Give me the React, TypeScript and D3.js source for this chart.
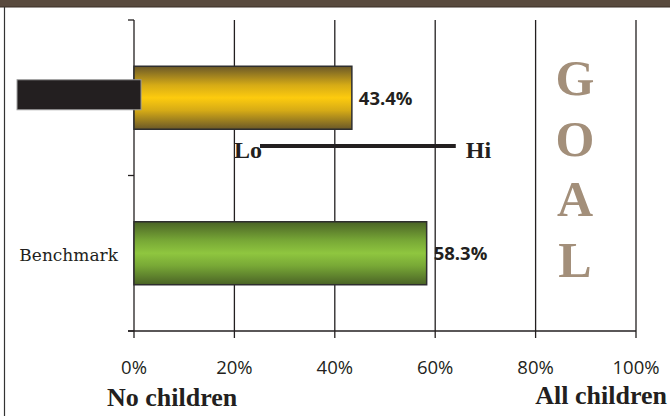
import React from "react";
import * as d3 from "d3";

const categories = ["Program", "Benchmark"];
const categoryLabels = ["", "Benchmark"];
const values = [43.4, 58.3];
const valueLabels = ["43.4%", "58.3%"];
const markerRange = [-23.3, 1.4];
const loHiRange = [25.1, 64.1];
const tickValues = [0, 20, 40, 60, 80, 100];
const tickLabels = ["0%", "20%", "40%", "60%", "80%", "100%"];
const goalLetters = ["G", "O", "A", "L"];

const W = 670;
const H = 416;

export default function App() {
  const x = d3.scaleLinear().domain([0, 100]).range([134, 636]);
  const y = d3.scaleBand<string>().domain(categories).range([20, 331]).padding(0);
  const bw = y.bandwidth();
  const barH = bw * 0.405;
  const dark = "#231f20";
  const serif = "'Liberation Serif', 'Times New Roman', serif";
  const sans = "'Open Sans', sans-serif";

  return (
    <svg width={W} height={H} style={{ position: "absolute", left: 0, top: 0 }}>
      <defs>
        <linearGradient id="gYellow" x1="0" y1="0" x2="0" y2="1">
          <stop offset="0" stopColor="#6a5828" />
          <stop offset="0.3" stopColor="#d6ab16" />
          <stop offset="0.5" stopColor="#fdcb0e" />
          <stop offset="0.7" stopColor="#d6ab16" />
          <stop offset="1" stopColor="#6a5828" />
        </linearGradient>
        <linearGradient id="gGreen" x1="0" y1="0" x2="0" y2="1">
          <stop offset="0" stopColor="#4a6326" />
          <stop offset="0.3" stopColor="#78a836" />
          <stop offset="0.5" stopColor="#8fc63f" />
          <stop offset="0.7" stopColor="#78a836" />
          <stop offset="1" stopColor="#4a6326" />
        </linearGradient>
      </defs>
      <rect x={0} y={0} width={W} height={H} fill="#ffffff" />
      <rect x={0} y={0} width={W} height={7} fill="#594a3e" />
      <line x1={0} x2={W} y1={7} y2={7} stroke="#3a2f27" strokeWidth={1} />
      <line x1={4.5} x2={4.5} y1={7} y2={H} stroke="#333" strokeWidth={1.2} />

      {/* gridlines */}
      {tickValues.map((t) => (
        <line key={"g" + t} x1={x(t)} x2={x(t)} y1={20} y2={338} stroke={dark} strokeWidth={1.3} />
      ))}
      {/* y axis ticks */}
      {[20, 20 + bw, 331].map((v, i) => (
        <line key={"yt" + i} x1={128} x2={134} y1={v} y2={v} stroke={dark} strokeWidth={1.3} />
      ))}
      {/* x axis */}
      <line x1={128} x2={x(100)} y1={331} y2={331} stroke={dark} strokeWidth={1.3} />

      {/* bars */}
      {categories.map((c, i) => {
        const yc = (y(c) as number) + bw / 2;
        return (
          <rect
            key={c}
            x={x(0)}
            y={yc - barH / 2}
            width={x(values[i]) - x(0)}
            height={barH}
            fill={i === 0 ? "url(#gYellow)" : "url(#gGreen)"}
            stroke="#2e2e2e"
            strokeWidth={1.5}
          />
        );
      })}

      {/* black marker bar */}
      <rect
        x={x(markerRange[0])}
        y={(y(categories[0]) as number) + bw / 2 - 18}
        width={x(markerRange[1]) - x(markerRange[0])}
        height={30}
        fill={dark}
        stroke="#9a9a9a"
        strokeWidth={1}
      />

      {/* value labels */}
      {categories.map((c, i) => {
        const yc = (y(c) as number) + bw / 2;
        return (
          <text
            key={"v" + c}
            x={x(values[i]) + 7}
            y={yc + 7}
            fontFamily={sans}
            fontWeight={700}
            fontSize={18.5}
            fill={dark}
          >
            {valueLabels[i]}
          </text>
        );
      })}

      {/* category labels */}
      {categories.map((c, i) => (
        <text
          key={"c" + c}
          x={118}
          y={(y(c) as number) + bw / 2 + 8}
          textAnchor="end"
          fontFamily="'DejaVu Serif', serif"
          fontSize={17}
          fill={dark}
        >
          {categoryLabels[i]}
        </text>
      ))}

      {/* Lo - Hi range line */}
      <line
        x1={x(loHiRange[0])}
        x2={x(loHiRange[1])}
        y1={146}
        y2={146}
        stroke={dark}
        strokeWidth={4}
      />
      <text x={x(loHiRange[0]) + 2} y={158} textAnchor="end" fontFamily={serif} fontWeight={700} fontSize={24} fill={dark}>
        Lo
      </text>
      <text x={x(loHiRange[1]) + 10} y={158} fontFamily={serif} fontWeight={700} fontSize={24} fill={dark}>
        Hi
      </text>

      {/* tick labels */}
      {tickValues.map((t, i) => (
        <text key={"tl" + t} x={x(t)} y={374} textAnchor="middle" fontFamily={sans} fontSize={18.5} fill={dark}>
          {tickLabels[i]}
        </text>
      ))}

      <text x={107} y={406} fontFamily={serif} fontWeight={700} fontSize={26} fill={dark}>
        No children
      </text>
      <text x={667} y={404} textAnchor="end" fontFamily={serif} fontWeight={700} fontSize={26} fill={dark}>
        All children
      </text>

      {/* GOAL */}
      {goalLetters.map((l, i) => (
        <text
          key={"goal" + i}
          x={575}
          y={95 + i * 60.7}
          textAnchor="middle"
          fontFamily={serif}
          fontWeight={700}
          fontSize={50}
          fill="#a38f7a"
        >
          {l}
        </text>
      ))}
    </svg>
  );
}
